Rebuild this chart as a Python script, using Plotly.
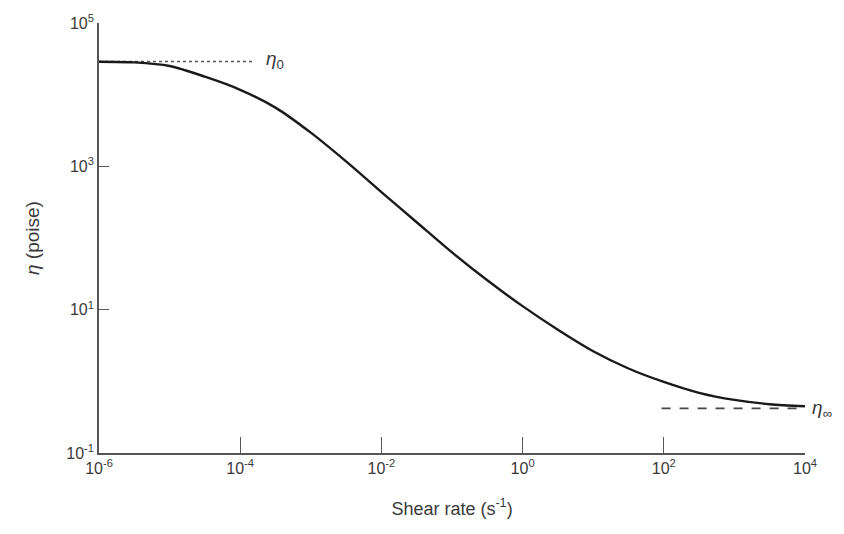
import plotly.graph_objects as go

# Data (shear rate in s^-1, viscosity in poise)
shear_rate = [1e-6, 3.16e-6, 1e-5, 3.16e-5, 1e-4, 3.16e-4, 1e-3, 3.16e-3, 1e-2,
              3.16e-2, 0.1, 0.316, 1, 3.16, 10, 31.6, 100, 316, 1000, 3162, 1e4]
viscosity = [2.88e4, 2.82e4, 2.51e4, 1.78e4, 1.17e4, 6.6e3, 2.95e3, 1.17e3, 437,
             166, 63, 25.7, 11.2, 5.25, 2.63, 1.51, 0.98, 0.69, 0.55, 0.48, 0.45]

eta0 = 2.9e4
eta_inf = 0.42
eta0_x = [1e-6, 1.5e-4]
eta_inf_x = [93, 1e4]

x_tickvals = [1e-6, 1e-4, 1e-2, 1e0, 1e2, 1e4]
x_ticktext = ["10<sup>-6</sup>", "10<sup>-4</sup>", "10<sup>-2</sup>",
              "10<sup>0</sup>", "10<sup>2</sup>", "10<sup>4</sup>"]
y_tickvals = [1e-1, 1e1, 1e3, 1e5]
y_ticktext = ["10<sup>-1</sup>", "10<sup>1</sup>", "10<sup>3</sup>", "10<sup>5</sup>"]

font_family = "Liberation Sans, Arial, sans-serif"
ink = "#3a3a3a"

fig = go.Figure()

fig.add_trace(go.Scatter(
    x=eta0_x, y=[eta0, eta0], mode="lines",
    line=dict(color="#555555", width=1.4, dash="dot"), showlegend=False))
fig.add_trace(go.Scatter(
    x=eta_inf_x, y=[eta_inf, eta_inf], mode="lines",
    line=dict(color="#444444", width=1.8, dash="dash"), showlegend=False))
fig.add_trace(go.Scatter(
    x=shear_rate, y=viscosity, mode="lines",
    line=dict(color="#1a1a1a", width=2.4, shape="spline", smoothing=0.8),
    showlegend=False))

fig.add_annotation(x=-3.8, y=4.46, xref="x", yref="y", text="<i>η</i><sub>0</sub>",
                   showarrow=False, xanchor="left", yanchor="middle", xshift=10,
                   yshift=2, font=dict(size=19, color=ink, family=font_family))
fig.add_annotation(x=4.0, y=-0.38, xref="x", yref="y", text="<i>η</i><sub>∞</sub>",
                   showarrow=False, xanchor="left", yanchor="middle", xshift=5,
                   font=dict(size=19, color=ink, family=font_family))

fig.update_layout(
    width=844, height=534,
    margin=dict(l=99, r=39, t=18, b=81),
    paper_bgcolor="white", plot_bgcolor="white",
    font=dict(family=font_family, color=ink, size=16),
    xaxis=dict(
        type="log", range=[-6, 4], tickvals=x_tickvals, ticktext=x_ticktext,
        ticks="inside", ticklen=16, tickwidth=1.3, tickcolor="#555555",
        showline=True, linecolor="#555555", linewidth=1.6,
        showgrid=False, zeroline=False,
        tickfont=dict(size=16, color=ink),
        title=dict(text="Shear rate (s<sup>-1</sup>)", font=dict(size=18, color=ink),
                   standoff=26),
    ),
    yaxis=dict(
        type="log", range=[-1, 5], tickvals=y_tickvals, ticktext=y_ticktext,
        ticks="inside", ticklen=10, tickwidth=1.3, tickcolor="#555555",
        showline=True, linecolor="#555555", linewidth=1.6,
        showgrid=False, zeroline=False,
        tickfont=dict(size=16, color=ink),
        title=dict(text="<i>η</i> (poise)", font=dict(size=19, color=ink), standoff=22),
    ),
)

fig.write_html("out.html")
